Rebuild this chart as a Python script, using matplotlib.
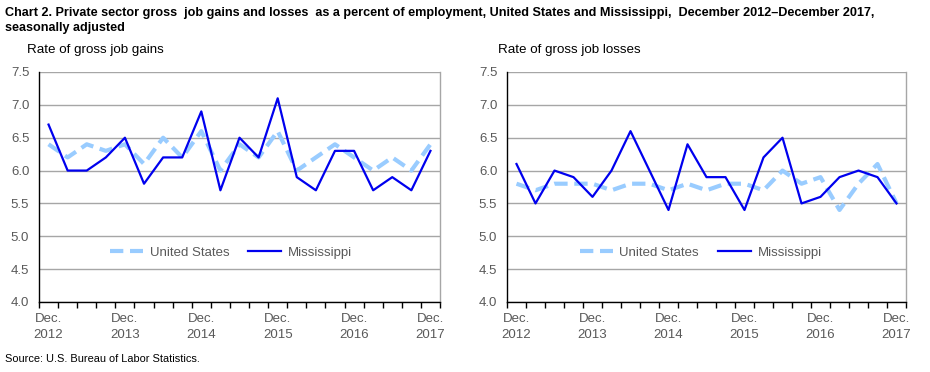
import matplotlib
matplotlib.use("Agg")
import matplotlib.pyplot as plt

# quarterly, Dec 2012 .. Dec 2017
labels = ["Dec.\n2012", "Dec.\n2013", "Dec.\n2014", "Dec.\n2015", "Dec.\n2016", "Dec.\n2017"]

gains_us = [6.4, 6.2, 6.4, 6.3, 6.4, 6.1, 6.5, 6.2, 6.6, 6.0, 6.4,
            6.2, 6.6, 6.0, 6.2, 6.4, 6.2, 6.0, 6.2, 6.0, 6.4]
gains_ms = [6.7, 6.0, 6.0, 6.2, 6.5, 5.8, 6.2, 6.2, 6.9, 5.7, 6.5,
            6.2, 7.1, 5.9, 5.7, 6.3, 6.3, 5.7, 5.9, 5.7, 6.3]
losses_us = [5.8, 5.7, 5.8, 5.8, 5.8, 5.7, 5.8, 5.8, 5.7, 5.8, 5.7,
             5.8, 5.8, 5.7, 6.0, 5.8, 5.9, 5.4, 5.8, 6.1, 5.5]
losses_ms = [6.1, 5.5, 6.0, 5.9, 5.6, 6.0, 6.6, 6.0, 5.4, 6.4, 5.9,
             5.9, 5.4, 6.2, 6.5, 5.5, 5.6, 5.9, 6.0, 5.9, 5.5]

US_COLOR = "#99CCFF"
MS_COLOR = "#0000EE"
TXT = "#595959"
FONT = "Liberation Sans"

W, H = 930, 372
fig = plt.figure(figsize=(W / 100, H / 100), dpi=100)

def panel(x0, x1, us, ms, ylabel, lx, legend_center):
    ax = fig.add_axes([x0 / W, 1 - 302 / H, (x1 - x0) / W, (302 - 72) / H])
    n = len(us)
    x = list(range(n))
    ax.plot(x, us, color=US_COLOR, lw=3, dashes=(3.2, 1.6), label="United States", zorder=3)
    ax.plot(x, ms, color=MS_COLOR, lw=1.6, label="Mississippi", zorder=4)
    ax.set_xlim(-0.5, n - 0.5)
    ax.set_ylim(4.0, 7.5)
    ax.set_yticks([4.0, 4.5, 5.0, 5.5, 6.0, 6.5, 7.0, 7.5])
    ax.set_yticklabels(["%.1f" % v for v in ax.get_yticks()], fontfamily=FONT,
                       fontsize=9.5, color=TXT)
    ax.tick_params(axis="y", length=0, pad=7)
    ax.grid(axis="y", color="#A6A6A6", lw=1)
    ax.set_axisbelow(True)
    ax.set_xticks([i - 0.5 for i in range(n + 1)])
    ax.set_xticklabels([])
    ax.set_xticks(list(range(0, n, 4)), minor=True)
    ax.set_xticklabels(labels, minor=True, fontfamily=FONT, fontsize=9.5,
                       color=TXT, linespacing=1.4)
    ax.tick_params(axis="x", which="major", length=4, direction="out", color="black", width=1)
    ax.tick_params(axis="x", which="minor", length=0, pad=8)
    for s in ["left", "bottom"]:
        ax.spines[s].set_color("black")
        ax.spines[s].set_linewidth(1)
    ax.spines["top"].set_visible(False)
    ax.spines["right"].set_color("#A6A6A6")
    ax.spines["right"].set_linewidth(1)
    leg = ax.legend(loc="center", bbox_to_anchor=(legend_center, 0.215), ncol=2, frameon=False,
                    prop={"family": FONT, "size": 9.5}, handlelength=2.5,
                    columnspacing=1.45, handletextpad=0.5)
    for t in leg.get_texts():
        t.set_color(TXT)
    fig.text(lx / W, 1 - 50 / H, ylabel, fontfamily=FONT, fontsize=9.6, va="center")
    return ax

panel(39, 440, gains_us, gains_ms, "Rate of gross job gains", 27, 0.479)
panel(507, 906, losses_us, losses_ms, "Rate of gross job losses", 498, 0.486)

fig.text(5 / W, 1 - 13 / H,
         "Chart 2. Private sector gross  job gains and losses  as a percent of employment, United States and Mississippi,  December 2012\u2013December 2017,",
         fontfamily=FONT, fontweight="bold", fontsize=9.1, va="center")
fig.text(5 / W, 1 - 28 / H, "seasonally adjusted", fontfamily=FONT, fontweight="bold",
         fontsize=9.1, va="center")
fig.text(5 / W, 1 - 359 / H, "Source: U.S. Bureau of Labor Statistics.", fontfamily=FONT,
         fontsize=7.9, va="center")

fig.savefig("out.png", dpi=100)
